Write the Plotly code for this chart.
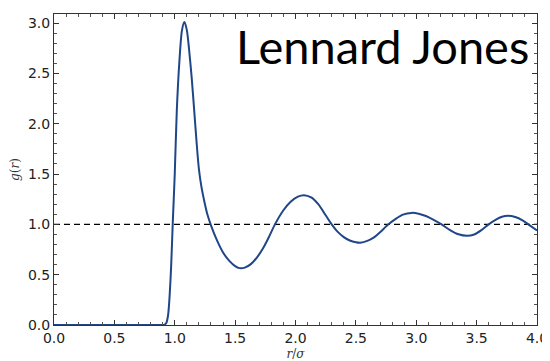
import plotly.graph_objects as go

# Radial distribution function
r_vals = [0.0, 0.5, 0.88, 0.91, 0.93, 0.945, 0.957, 0.97, 0.983, 1.0, 1.017, 1.039, 1.06, 1.08,
          1.10, 1.12, 1.14, 1.16, 1.18, 1.20, 1.22, 1.25, 1.27, 1.30, 1.35, 1.40, 1.45, 1.50,
          1.535, 1.58, 1.63, 1.68, 1.73, 1.78, 1.83, 1.90, 1.96, 2.02, 2.07, 2.13, 2.19, 2.25, 2.30,
          2.35, 2.40, 2.45, 2.50, 2.535, 2.60, 2.65, 2.70, 2.77, 2.83, 2.89, 2.96, 3.02, 3.08,
          3.14, 3.21, 3.28, 3.35, 3.42, 3.48, 3.54, 3.60, 3.66, 3.71, 3.76, 3.82, 3.88, 3.94, 4.0]
g_vals = [0.0, 0.0, 0.0, 0.0, 0.02, 0.1, 0.28, 0.58, 1.0, 1.5, 2.13, 2.63, 2.93, 3.01,
          2.93, 2.72, 2.46, 2.15, 1.83, 1.55, 1.38, 1.20, 1.10, 0.99, 0.84, 0.72, 0.64, 0.585,
          0.565, 0.57, 0.605, 0.67, 0.76, 0.875, 1.0, 1.14, 1.225, 1.275, 1.29, 1.267, 1.198, 1.09, 1.0,
          0.925, 0.873, 0.84, 0.822, 0.817, 0.838, 0.87, 0.922, 1.0, 1.054, 1.096, 1.114, 1.106, 1.083,
          1.048, 1.0, 0.943, 0.901, 0.886, 0.899, 0.943, 1.0, 1.047, 1.075, 1.085, 1.073, 1.04, 0.99, 0.94]

ref_x = [0.0, 4.0]
ref_y = [1.0, 1.0]

x_ticks = [0.0, 0.5, 1.0, 1.5, 2.0, 2.5, 3.0, 3.5, 4.0]
y_ticks = [0.0, 0.5, 1.0, 1.5, 2.0, 2.5, 3.0]

fig = go.Figure()
fig.add_trace(go.Scatter(x=ref_x, y=ref_y, mode="lines",
                         line=dict(color="black", width=1.3, dash="6px,4px"),
                         hoverinfo="skip", showlegend=False))
fig.add_trace(go.Scatter(x=r_vals, y=g_vals, mode="lines",
                         line=dict(color="#1f4688", width=2, shape="spline", smoothing=0.8),
                         showlegend=False))

axis_common = dict(showline=True, linecolor="#333333", linewidth=1, mirror="allticks",
                   ticks="inside", ticklen=5, tickcolor="#333333", tickwidth=1,
                   showgrid=False, zeroline=False, automargin=False,
                   tickfont=dict(family="DejaVu Sans", size=14, color="#222222"),
                   minor=dict(ticks="inside", ticklen=3, tickcolor="#555555", dtick=0.1))

fig.update_xaxes(range=[0, 4], tickvals=x_ticks, ticktext=[f"{v:.1f}" for v in x_ticks],
                 title=dict(text="<i>r</i>/<i>σ</i>", font=dict(family="DejaVu Serif", size=12, color="#333333"),
                            standoff=4),
                 **axis_common)
fig.update_yaxes(range=[0, 3.09], tickvals=y_ticks, ticktext=[f"{v:.1f}" for v in y_ticks],
                 title=dict(text="<i>g</i>(<i>r</i>)", font=dict(family="DejaVu Serif", size=12, color="#333333"),
                            standoff=10),
                 ticklabelstandoff=0,
                 **axis_common)

fig.add_annotation(text="Lennard Jones", xref="paper", yref="paper", x=0.988, y=0.994,
                   xanchor="right", yanchor="top", showarrow=False,
                   font=dict(family="Lato", size=47, color="black"))

# The page body adds an 8 px offset; size the figure so the plot area lands where the reference has it
fig.update_layout(width=542, height=353, margin=dict(l=46, r=13, t=6, b=36),
                  paper_bgcolor="white", plot_bgcolor="white")

fig.write_html("out.html")
